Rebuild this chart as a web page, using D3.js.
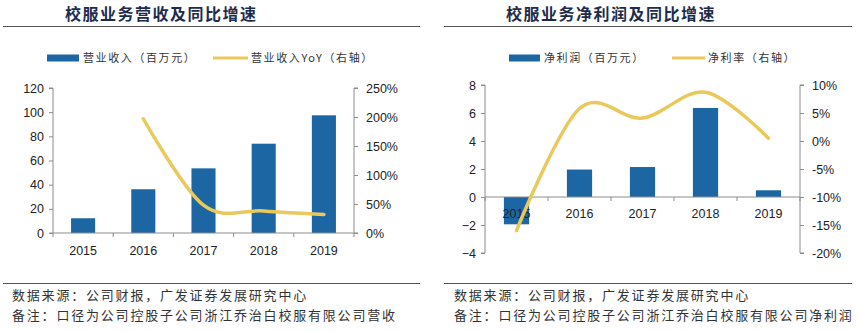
<!DOCTYPE html>
<html>
<head>
<meta charset="utf-8">
<script src="https://cdn.jsdelivr.net/npm/d3@7/dist/d3.min.js"></script>
<style>
  body { margin: 0; background: #fff; }
  svg { display: block; }
</style>
</head>
<body>
<svg id="chart" width="864" height="331"></svg>
<script>
const years = ['2015', '2016', '2017', '2018', '2019']
const revenue = [12.2, 36.2, 53.5, 73.9, 97.4]
const revenueYoY = [null, 197, 48, 38, 32]
const netProfit = [-1.95, 1.96, 2.14, 6.36, 0.48]
const netMargin = [-16.0, 5.8, 4.1, 8.7, 0.5]
const revTicks = [0, 20, 40, 60, 80, 100, 120]
const yoyTicks = [0, 50, 100, 150, 200, 250]
const profitTicks = [-4, -2, 0, 2, 4, 6, 8]
const marginTicks = [-20, -15, -10, -5, 0, 5, 10]

const blue = '#1c67a3'
const yellow = '#e9c85c'
const axisColor = '#8c8c8c'
const cjk = '"Noto Sans CJK SC", sans-serif'
const num = '"Liberation Sans", Arial, sans-serif'

const svg = d3.select('#chart')

const panel = (opt) => {
  const g = svg.append('g')

  // title + rule
  g.append('text')
    .attr('x', opt.titleX).attr('y', 20)
    .style('font-family', cjk).style('font-size', '16px').style('font-weight', 'bold')
    .style('letter-spacing', '1.5px').attr('fill', '#1d2c4c')
    .text(opt.title)
  g.append('line')
    .attr('x1', opt.ruleL).attr('x2', opt.ruleR).attr('y1', 26.5).attr('y2', 26.5)
    .attr('stroke', '#555').attr('stroke-width', 1)

  // legend
  g.append('rect')
    .attr('x', opt.leg[0]).attr('y', 54.5).attr('width', opt.leg[1] - opt.leg[0]).attr('height', 7)
    .attr('fill', blue)
  g.append('text')
    .attr('x', opt.leg[1] + 4).attr('y', 62)
    .style('font-family', cjk).style('font-size', '11px').style('letter-spacing', '1.6px')
    .attr('fill', '#333').text(opt.legBar)
  g.append('line')
    .attr('x1', opt.leg[2]).attr('x2', opt.leg[3]).attr('y1', 58).attr('y2', 58)
    .attr('stroke', yellow).attr('stroke-width', 3)
  g.append('text')
    .attr('x', opt.leg[3] + 3).attr('y', 62)
    .style('font-family', cjk).style('font-size', '11px').style('letter-spacing', '1.6px')
    .attr('fill', '#333').text(opt.legLine)

  const x = d3.scaleBand().domain(years).range([opt.left, opt.right]).padding(0)
  const y = d3.scaleLinear().domain(d3.extent(opt.yTicks)).range([opt.bottom, opt.top])
  const y2 = d3.scaleLinear().domain(d3.extent(opt.y2Ticks)).range([opt.bottom, opt.top])
  const bw = x.bandwidth() * 0.4

  // left axis
  const ax = g.append('g')
    .attr('transform', `translate(${opt.left},0)`)
    .call(d3.axisLeft(y).tickValues(opt.yTicks).tickSize(4).tickPadding(5).tickFormat(d3.format('d')))
  const ax2 = g.append('g')
    .attr('transform', `translate(${opt.right},0)`)
    .call(d3.axisRight(y2).tickValues(opt.y2Ticks).tickSize(4).tickPadding(8).tickFormat(d => d + '%'))
  ;[ax, ax2].forEach(a => {
    a.select('.domain').attr('stroke', axisColor).attr('d', a === ax
      ? `M-4,${opt.bottom}H0V${opt.top}H-4` : `M4,${opt.bottom}H0V${opt.top}H4`)
    a.selectAll('.tick line').attr('stroke', axisColor)
    a.selectAll('.tick text').style('font-family', num).style('font-size', '12.5px').attr('fill', '#222')
  })

  // bars
  g.selectAll('rect.bar')
    .data(opt.bars)
    .enter()
    .append('rect')
    .attr('class', 'bar')
    .attr('x', (d, i) => x(years[i]) + (x.bandwidth() - bw) / 2)
    .attr('width', bw)
    .attr('y', d => y(Math.max(0, d)))
    .attr('height', d => Math.abs(y(d) - y(0)))
    .attr('fill', blue)

  // category axis at zero
  const xa = g.append('g')
  xa.append('line')
    .attr('x1', opt.left).attr('x2', opt.right).attr('y1', y(0)).attr('y2', y(0))
    .attr('stroke', axisColor)
  xa.selectAll('line.tk')
    .data([...years.map(c => x(c)), opt.right])
    .enter()
    .append('line')
    .attr('class', 'tk')
    .attr('x1', d => d).attr('x2', d => d)
    .attr('y1', y(0)).attr('y2', y(0) + 4)
    .attr('stroke', axisColor)
  xa.selectAll('text')
    .data(years)
    .enter()
    .append('text')
    .attr('x', d => x(d) + x.bandwidth() / 2)
    .attr('y', y(0) + opt.labelDy)
    .attr('text-anchor', 'middle')
    .style('font-family', num).style('font-size', '12.5px').attr('fill', '#222')
    .text(d => d)

  // line
  const pts = opt.line.map((v, i) => [x(years[i]) + x.bandwidth() / 2, v]).filter(p => p[1] !== null)
  g.append('path')
    .datum(pts)
    .attr('fill', 'none')
    .attr('stroke', yellow)
    .attr('stroke-width', 3.5)
    .attr('stroke-linecap', 'round')
    .attr('d', d3.line().x(p => p[0]).y(p => y2(p[1])).curve(d3.curveCardinal.tension(0)))

  // footer
  g.append('line')
    .attr('x1', opt.ruleL).attr('x2', opt.ruleR).attr('y1', 283.5).attr('y2', 283.5)
    .attr('stroke', '#555').attr('stroke-width', 1)
  opt.notes.forEach((t, i) => {
    g.append('text')
      .attr('x', opt.noteX).attr('y', 300 + i * 20)
      .style('font-family', cjk).style('font-size', '13px').style('letter-spacing', '1.8px')
      .attr('fill', '#333').text(t)
  })
}

panel({
  title: '校服业务营收及同比增速', titleX: 65, ruleL: 3, ruleR: 420,
  leg: [47, 79, 213, 248], legBar: '营业收入（百万元）', legLine: '营业收入YoY（右轴）',
  left: 53, right: 354, top: 88, bottom: 233, labelDy: 22,
  yTicks: revTicks, y2Ticks: yoyTicks, bars: revenue, line: revenueYoY,
  noteX: 12,
  notes: ['数据来源：公司财报，广发证券发展研究中心', '备注：口径为公司控股子公司浙江乔治白校服有限公司营收']
})

panel({
  title: '校服业务净利润及同比增速', titleX: 506, ruleL: 444, ruleR: 852,
  leg: [509, 540, 672, 705], legBar: '净利润（百万元）', legLine: '净利率（右轴）',
  left: 485, right: 800, top: 85, bottom: 253, labelDy: 21,
  yTicks: profitTicks, y2Ticks: marginTicks, bars: netProfit, line: netMargin,
  noteX: 454,
  notes: ['数据来源：公司财报，广发证券发展研究中心', '备注：口径为公司控股子公司浙江乔治白校服有限公司净利润']
})
</script>
</body>
</html>
